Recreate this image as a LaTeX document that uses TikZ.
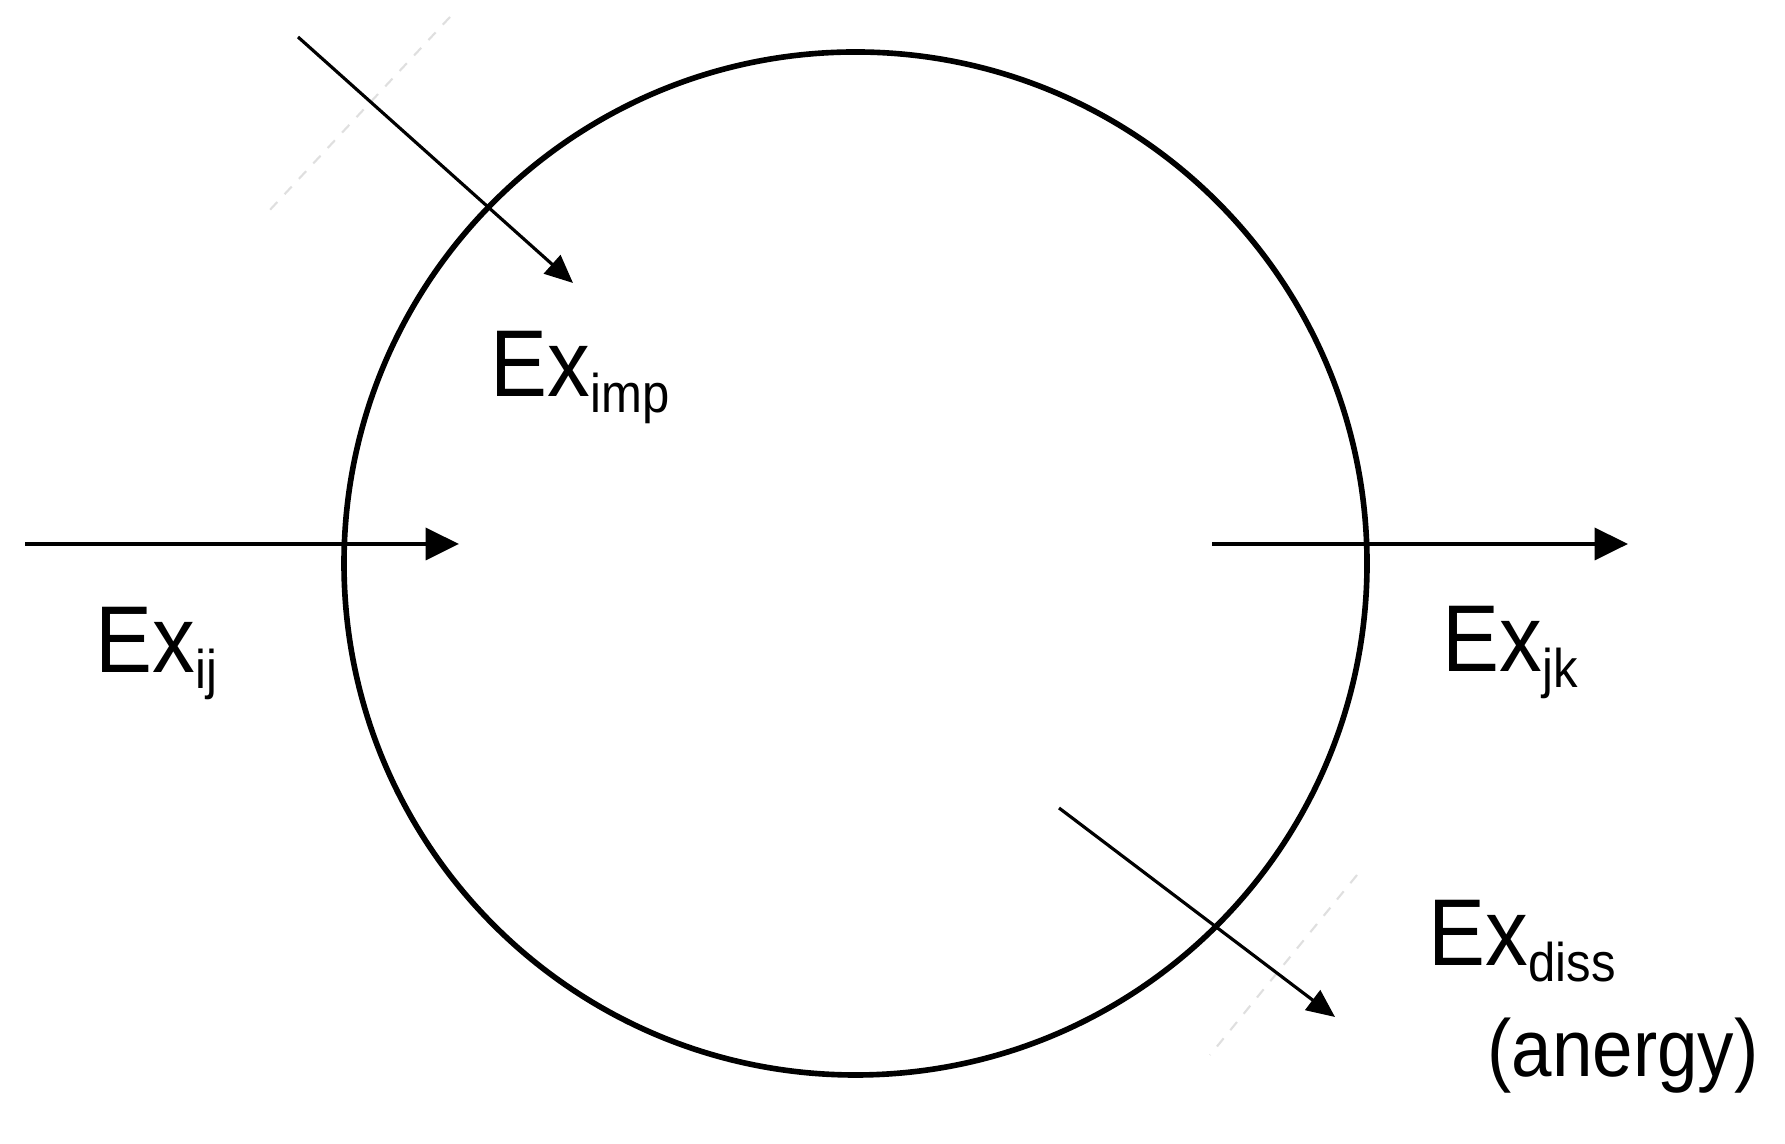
\documentclass[tikz,border=0pt]{standalone}
\usepackage{fontspec}
\setmainfont{Liberation Sans}[FakeStretch=0.9]
\usetikzlibrary{arrows.meta}
\newcommand{\exsub}[1]{Ex\raisebox{-4.5pt}{\fontsize{15.5}{17}\selectfont #1}}

\begin{document}
\begin{tikzpicture}[
    flow/.style={line width=1.4pt, -{Triangle[length=9.5pt,width=9pt]}},
    side/.style={line width=0.9pt, -{Triangle[length=8pt,width=7pt]}},
    trace/.style={gray!25, dash pattern=on 3pt off 3pt, line width=0.6pt},
    lbl/.style={anchor=base west, inner sep=0pt, font=\fontsize{27}{32}\selectfont}
]
\useasboundingbox (0,0) rectangle (17.85,11.44);

% System boundary
\node[draw, circle, line width=1.6pt, minimum size=10.23cm, inner sep=0pt] (sys) at (8.555,5.805) {};

% Arrow ends
\coordinate (ijstart) at (0.25,6.00);
\coordinate (ijend) at (4.59,6.00);
\coordinate (jkstart) at (12.12,6.00);
\coordinate (jkend) at (16.28,6.00);
\coordinate (impstart) at (2.98,11.07);
\coordinate (impend) at (5.73,8.61);
\coordinate (dissstart) at (10.59,3.36);
\coordinate (dissend) at (13.35,1.27);

% Faint traces
\coordinate (ta) at (4.50,11.27);
\coordinate (tb) at (2.68,9.32);
\coordinate (tc) at (13.57,2.69);
\coordinate (td) at (12.10,0.89);
\draw[trace] (ta) -- (tb);
\draw[trace] (tc) -- (td);

% Flows
\draw[flow] (ijstart) -- (ijend);
\draw[flow] (jkstart) -- (jkend);
\draw[side] (impstart) -- (impend);
\draw[side] (dissstart) -- (dissend);

% Labels
\node[lbl] (exij) at (0.95,4.71) {\exsub{ij}};
\node[lbl] (exjk) at (14.42,4.72) {\exsub{jk}};
\node[lbl] (eximp) at (4.90,7.47) {\exsub{imp}};
\node[lbl] (exdiss) at (14.28,1.78) {\exsub{diss}};
\node[anchor=base west, inner sep=0pt, font=\fontsize{23}{27}\selectfont] (anergy) at (14.87,0.67) {(anergy)};
\end{tikzpicture}
\end{document}
